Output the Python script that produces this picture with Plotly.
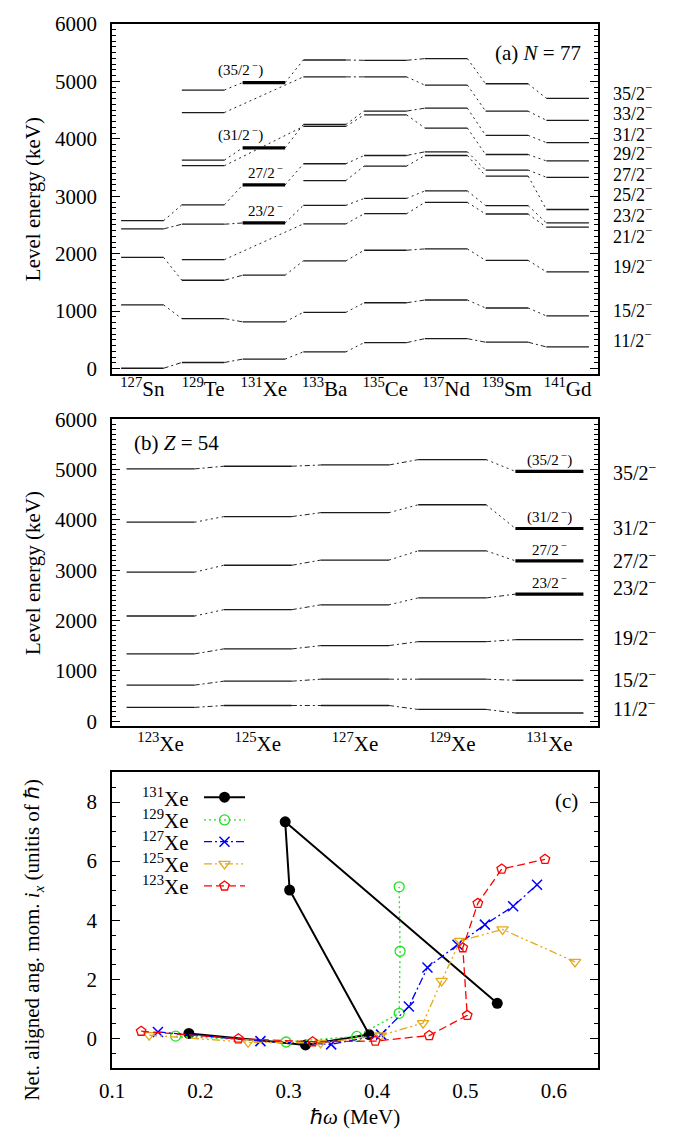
import plotly.graph_objects as go

# ---------------- DATA ----------------
# Panel (a): N = 77 isotones, level energies (keV) per spin (None = not observed)
spins_a = ["35/2", "33/2", "31/2", "29/2", "27/2", "25/2", "23/2", "21/2", "19/2", "15/2", "11/2"]
nuclei_a = ["127Sn", "129Te", "131Xe", "133Ba", "135Ce", "137Nd", "139Sm", "141Gd"]
nuclei_a_labels = ["<sup>127</sup>Sn", "<sup>129</sup>Te", "<sup>131</sup>Xe", "<sup>133</sup>Ba",
                   "<sup>135</sup>Ce", "<sup>137</sup>Nd", "<sup>139</sup>Sm", "<sup>141</sup>Gd"]
E_127Sn = [None, None, None, None, 2575, None, 2432, None, 1934, 1107, 5]
E_129Te = [4850, 4458, 3629, 3532, 2851, None, 2513, 1896, 1537, 869, 105]
E_131Xe_a = [4979, None, 3843, None, 3197, None, 2535, None, 1625, 813, 164]
E_133Ba = [5373, 5079, 4250, 4216, 3566, 3273, 2841, 2518, 1874, 978, 290]
E_135Ce = [5368, 5079, 4484, 4418, 3710, 3525, 2962, 2696, 2060, 1145, 451]
E_137Nd = [5397, 4936, 4534, 4188, 3774, 3710, 3093, 2893, 2083, 1193, 520]
E_139Sm = [4959, 4482, 4060, 3727, 3456, 3352, 2838, 2691, 1884, 1054, 458]
E_141Gd = [4706, 4323, 3934, 3615, 3330, 2769, 2535, 2461, 1684, 917, 376]
levels_a = [E_127Sn, E_129Te, E_131Xe_a, E_133Ba, E_135Ce, E_137Nd, E_139Sm, E_141Gd]

# Panel (b): Z = 54 isotopes
spins_b = ["35/2", "31/2", "27/2", "23/2", "19/2", "15/2", "11/2"]
nuclei_b_labels = ["<sup>123</sup>Xe", "<sup>125</sup>Xe", "<sup>127</sup>Xe", "<sup>129</sup>Xe", "<sup>131</sup>Xe"]
E_123Xe = [5012, 3953, 2961, 2090, 1339, 718, 275]
E_125Xe = [5065, 4065, 3098, 2216, 1437, 796, 313]
E_127Xe = [5090, 4143, 3202, 2313, 1503, 836, 313]
E_129Xe = [5196, 4300, 3385, 2450, 1581, 836, 235]
E_131Xe_b = [4962, 3828, 3186, 2525, 1620, 814, 164]
levels_b = [E_123Xe, E_125Xe, E_127Xe, E_129Xe, E_131Xe_b]

# Panel (c): net aligned angular momentum vs rotational frequency
hw_131 = [0.187, 0.319, 0.391, 0.301, 0.296, 0.536]
ix_131 = [0.17, -0.22, 0.13, 5.02, 7.33, 1.19]
hw_129 = [0.172, 0.297, 0.377, 0.425, 0.426, 0.425]
ix_129 = [0.08, -0.12, 0.07, 0.85, 2.95, 5.13]
hw_127 = [0.152, 0.268, 0.348, 0.4045, 0.436, 0.457, 0.491, 0.522, 0.554, 0.581]
ix_127 = [0.22, -0.09, -0.20, 0.13, 1.08, 2.40, 3.17, 3.85, 4.47, 5.20]
hw_125 = [0.142, 0.254, 0.336, 0.404, 0.452, 0.473, 0.494, 0.542, 0.624]
ix_125 = [0.11, -0.13, -0.15, 0.10, 0.52, 1.95, 3.30, 3.69, 2.59]
hw_123 = [0.133, 0.243, 0.327, 0.398, 0.459, 0.502, 0.497, 0.514, 0.541, 0.590]
ix_123 = [0.245, -0.01, -0.11, -0.09, 0.10, 0.78, 3.07, 4.57, 5.73, 6.06]

# ---------------- STYLE ----------------
FONT = "Liberation Serif"
HALF = 0.35
THICK_SPINS = {"35/2", "31/2", "27/2", "23/2"}
tentative = {"35/2": "(35/2<sup> −</sup>)", "31/2": "(31/2<sup> −</sup>)",
             "27/2": "27/2<sup> −</sup>", "23/2": "23/2<sup> −</sup>"}

fig = go.Figure()


def add_levels(levels, spins, xa, ya, thick_index):
    thin_x, thin_y, thick_x, thick_y = [], [], [], []
    conn = {"dot": ([], []), "dd": ([], [])}
    for i, Es in enumerate(levels):
        xc = i + 1
        for s, E in zip(spins, Es):
            if E is None:
                continue
            if i == thick_index and s in THICK_SPINS:
                thick_x += [xc - HALF, xc + HALF, None]
                thick_y += [E, E, None]
            else:
                thin_x += [xc - HALF, xc + HALF, None]
                thin_y += [E, E, None]
    for k, s in enumerate(spins):
        prev = None
        for i, Es in enumerate(levels):
            E = Es[k]
            if E is None:
                continue
            if prev is not None:
                pi, pE = prev
                key = "dd" if abs(E - pE) < 110 else "dot"
                conn[key][0].extend([pi + 1 + HALF, i + 1 - HALF, None])
                conn[key][1].extend([pE, E, None])
            prev = (i, E)
    for key, dash in (("dot", "2px,3.5px"), ("dd", "5px,3px,2px,3px")):
        fig.add_trace(go.Scatter(x=conn[key][0], y=conn[key][1], mode="lines", xaxis=xa, yaxis=ya,
                                 line=dict(color="#222", width=1, dash=dash),
                                 showlegend=False, hoverinfo="skip"))
    fig.add_trace(go.Scatter(x=thin_x, y=thin_y, mode="lines", xaxis=xa, yaxis=ya,
                             line=dict(color="#1a1a1a", width=1.3), showlegend=False, hoverinfo="skip"))
    fig.add_trace(go.Scatter(x=thick_x, y=thick_y, mode="lines", xaxis=xa, yaxis=ya,
                             line=dict(color="black", width=3.2), showlegend=False, hoverinfo="skip"))


add_levels(levels_a, spins_a, "x", "y", nuclei_a.index("131Xe"))
add_levels(levels_b, spins_b, "x2", "y2", 4)

# Panel (c) curves
series = [
    ("131", hw_131, ix_131, dict(color="black", width=2), dict(symbol="circle", size=11, color="black")),
    ("129", hw_129, ix_129, dict(color="#22e022", width=1.3, dash="2px,3px"),
     dict(symbol="circle-open", size=10, color="#22e022", line=dict(width=1.3))),
    ("127", hw_127, ix_127, dict(color="#0000ff", width=1.3, dash="8px,3px,2px,3px"),
     dict(symbol="x-thin-open", size=10, color="#0000ff", line=dict(width=1.5, color="#0000ff"))),
    ("125", hw_125, ix_125, dict(color="#e6a817", width=1.3, dash="8px,3px,2px,3px,2px,3px"),
     dict(symbol="triangle-down-open", size=10, color="#e6a817", line=dict(width=1.3))),
    ("123", hw_123, ix_123, dict(color="#ff0000", width=1.3, dash="8px,4px"),
     dict(symbol="pentagon-open", size=10, color="#ff0000", line=dict(width=1.3))),
]
leg_y = [0.9163, 0.8393, 0.7657, 0.6907, 0.616]
annotations = []
for (name, xs, ys, ln, mk), ly in zip(series, leg_y):
    fig.add_trace(go.Scatter(x=xs, y=ys, mode="lines+markers", xaxis="x3", yaxis="y3",
                             line=ln, marker=mk, showlegend=False, cliponaxis=False))
    # legend sample (gnuplot style: sample right of text)
    fig.add_trace(go.Scatter(x=[0.1893, 0.2737], y=[ly, ly], mode="lines", xaxis="x4", yaxis="y4",
                             line=ln, showlegend=False, hoverinfo="skip"))
    fig.add_trace(go.Scatter(x=[0.2315], y=[ly], mode="markers", xaxis="x4", yaxis="y4",
                             marker=mk, showlegend=False, hoverinfo="skip"))
    annotations.append(dict(text=f"<sup>{name}</sup>Xe", xref="x4", yref="y4", x=0.162, y=ly,
                            xanchor="right", yanchor="middle", showarrow=False,
                            font=dict(family=FONT, size=21, color="black")))

# ---------------- ANNOTATIONS ----------------
def ann(text, x, y, xref="paper", yref="paper", size=21, xanchor="center", yanchor="middle", angle=0):
    annotations.append(dict(text=text, x=x, y=y, xref=xref, yref=yref, xanchor=xanchor,
                            yanchor=yanchor, showarrow=False, textangle=angle,
                            font=dict(family=FONT, size=size, color="black")))

# right-hand spin labels, panel (a)
rl_a = [4800, 4455, 4095, 3765, 3399, 3054, 2674, 2320, 1802, 1033, 497]
for s, yv in zip(spins_a, rl_a):
    ann(f"{s}<sup>−</sup>", 1.026, yv, yref="y", xanchor="left", size=18)
# right-hand spin labels, panel (b)
rl_b = [4954, 3866, 3212, 2657, 1677, 849, 261]
for s, yv in zip(spins_b, rl_b):
    ann(f"{s}<sup>−</sup>", 1.026, yv, yref="y2", xanchor="left", size=20)

# labels above the thick 131Xe levels
ix_a = nuclei_a.index("131Xe")
lab_x_a = {"35/2": 2.61, "31/2": 2.61, "27/2": 3.03, "23/2": 3.03}
for s in THICK_SPINS:
    k = spins_a.index(s)
    ann(tentative[s], lab_x_a[s], levels_a[ix_a][k] + 225, xref="x", yref="y", size=15)
    kb = spins_b.index(s)
    ann(tentative[s], 5.0, levels_b[4][kb] + 235, xref="x2", yref="y2", size=15)

ann("(a) <i>N</i> = 77", 0.969, 0.9725, xanchor="right")
ann("(b) <i>Z</i> = 54", 0.041, 0.5984, xanchor="left")
ann("(c)", 0.9356, 0.2556)

ann("Level energy (keV)", -0.1626, 0.8322, angle=-90)
ann("Level energy (keV)", -0.1626, 0.474, angle=-90)
ann("Net. aligned ang. mom. <i>i<sub>x</sub></i> (unitis of ℏ)", -0.1626, 0.123, angle=-90)
ann("ℏ<i>ω</i> (MeV)", 0.5, -0.047)

# ---------------- AXES ----------------
tickfont = dict(family=FONT, size=21, color="black")
frame = dict(showline=True, linecolor="black", linewidth=1.5, mirror=True, showgrid=False, zeroline=False)
yframe = dict(showline=True, linecolor="black", linewidth=1.5, mirror="ticks", showgrid=False,
              zeroline=False, ticks="inside", ticklen=8, tickwidth=1.2, tickcolor="black",
              tickfont=tickfont, ticklabelstandoff=9)

fig.update_layout(
    width=697, height=1138,
    margin=dict(l=112, r=99, t=13, b=70),
    paper_bgcolor="white", plot_bgcolor="white",
    showlegend=False,
    annotations=annotations,
    xaxis=dict(domain=[0, 1], range=[0.5, 8.5], anchor="y", tickvals=list(range(1, 9)),
               ticktext=nuclei_a_labels, ticks="", tickfont=tickfont, ticklabelstandoff=-5, **frame),
    yaxis=dict(domain=[0.6645, 1], range=[-100, 6000], anchor="x", dtick=1000, tick0=0,
               minor=dict(dtick=100, ticks="inside", ticklen=4, tickcolor="black", tickwidth=1),
               **yframe),
    xaxis2=dict(domain=[0, 1], range=[0.5, 5.5], anchor="y2", tickvals=list(range(1, 6)),
                ticktext=nuclei_b_labels, ticks="", tickfont=tickfont, ticklabelstandoff=-2, **frame),
    yaxis2=dict(domain=[0.3273, 0.6215], range=[-100, 6000], anchor="x2", dtick=1000, tick0=0,
                minor=dict(dtick=100, ticks="inside", ticklen=4, tickcolor="black", tickwidth=1),
                **yframe),
    xaxis3=dict(domain=[0, 1], range=[0.1, 0.65], anchor="y3", dtick=0.1, tick0=0.1, ticks="",
                tickfont=tickfont, ticklabelstandoff=3, **frame),
    yaxis3=dict(domain=[0, 0.2831], range=[-1, 9], anchor="x3", dtick=2, tick0=0,
                minor=dict(dtick=0.5, ticks="inside", ticklen=4, tickcolor="black", tickwidth=1),
                **yframe),
    xaxis4=dict(domain=[0, 1], range=[0, 1], anchor="y4", overlaying="x3", visible=False),
    yaxis4=dict(domain=[0, 0.2831], range=[0, 1], anchor="x4", overlaying="y3", visible=False),
)

fig.write_html("out.html")
